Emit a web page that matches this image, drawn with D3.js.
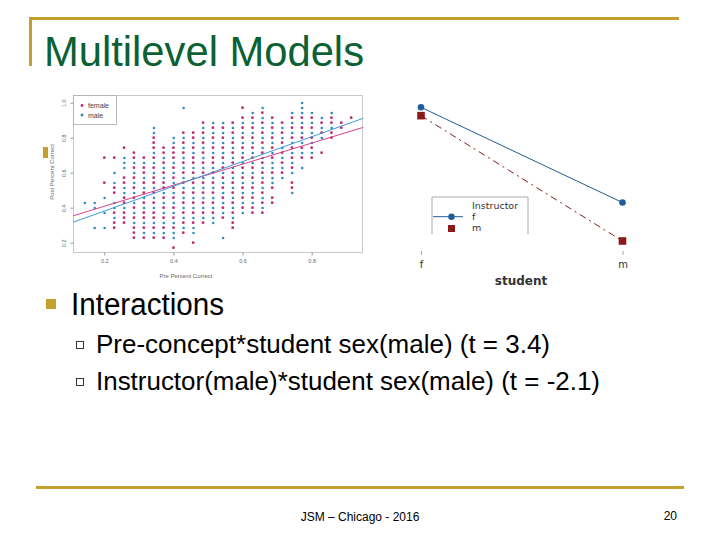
<!DOCTYPE html>
<html>
<head>
<meta charset="utf-8">
<script src="https://cdn.jsdelivr.net/npm/d3@7"></script>
<style>
  body { margin: 0; background: #fff; }
  svg { display: block; font-family: "Liberation Sans", Arial, sans-serif; }
</style>
</head>
<body>
<div id="viz"><svg width="720" height="540"></svg></div>
<script>
// ---- scatter data: pre score level (out of 35) and the post levels seen in each column
const preLevels = [5,6,7,8,9,10,11,12,13,14,15,16,17,18,19,20,21,22,23,24,25,26,27,28,29,30,31,32]
const femalePost = [
  [], [], [24,19], [24,18,17,13,11,10], [26,20,19,16,15,13,12,11],
  [25,24,22,20,18,16,14,12,10,9,8], [24,22,21,19,17,15,13,12,10,8],
  [28,27,26,24,22,20,19,17,15,13,12,10,8], [26,25,23,21,19,18,16,14,12,10,8],
  [26,25,24,22,20,18,16,14,12,10,6], [29,27,25,23,21,19,17,15,13,11,9],
  [29,28,26,24,23,21,19,17,15,13,11,7], [31,29,27,25,23,21,19,17,15,13,11],
  [30,28,26,24,23,21,19,17,15,13], [30,28,26,24,22,20,18,16,14,12],
  [31,29,27,25,23,21,19,17,15,13,11,10], [34,32,30,28,26,24,22,20,18,16,14],
  [32,30,28,26,24,22,20,18,16,14,13], [33,31,29,27,25,23,21,19,17,15,13],
  [32,30,28,26,24,21,18,16,15], [31,29,27,25,23,21], [32,30,28,26,24,22,19,18],
  [32,30,28,26,24], [32,30,28,26,24], [31,29,25], [32,31,29,28], [31,30], [32]
]
const malePost = [
  [15], [15,14,10], [16,13,10], [21,19,15,14,12], [24,23,22,18,17,14],
  [23,21,19,17,15,13,11], [23,20,18,16,14,11,9], [30,29,25,23,21,18,16,14,11,9],
  [24,22,20,17,15,13,11,9], [28,27,23,21,19,17,15,13,11,9,8],
  [34,28,26,24,22,20,18,16,14,12,10], [27,25,22,20,18,16,14,12,10,9],
  [30,28,26,24,22,20,18,16,14,12], [31,29,27,25,22,20,18,16,14,12,11],
  [31,29,27,25,23,21,19,17,15,13,8], [30,28,26,24,22,20,18,16,14,12],
  [31,29,27,25,23,21,19,17,15,13], [33,31,29,27,25,23,21,19,17,15],
  [34,32,30,28,26,24,22,20,18,16,14], [31,29,27,25,23,22,20,19],
  [30,28,26,24,22,20], [33,31,29,27,25,23,21,17], [35,34,33,31,29,27,25,22],
  [33,31,29,27,25], [32,30,28], [33,30], [], []
]
const levelsOf = 35
// fitted lines, end points [pre, post]
const femaleFit = [[0.11, 0.354], [0.949, 0.859]]
const maleFit = [[0.11, 0.317], [0.949, 0.911]]
const scatterTicks = [0.2, 0.4, 0.6, 0.8]
const scatterYTicks = [0.2, 0.4, 0.6, 0.8, 1.0]

// ---- interaction plot data
const studentSex = ["f", "m"]
const instructorF = [0.600, 0.543]
const instructorM = [0.595, 0.520]

const bullets = ["Pre-concept*student sex(male) (t = 3.4)", "Instructor(male)*student sex(male) (t = -2.1)"]
const bulletWidths = [454, 504]

const gold = "#c4a02e"
const svg = d3.select("#viz svg")

// ---- slide frame
svg.append("line").attr("x1", 29).attr("x2", 679).attr("y1", 18.5).attr("y2", 18.5)
    .attr("stroke", gold).attr("stroke-width", 3)
svg.append("line").attr("x1", 30.5).attr("x2", 30.5).attr("y1", 17).attr("y2", 66)
    .attr("stroke", gold).attr("stroke-width", 3)
svg.append("line").attr("x1", 36).attr("x2", 684).attr("y1", 487.5).attr("y2", 487.5)
    .attr("stroke", gold).attr("stroke-width", 3)
svg.append("text").attr("x", 44).attr("y", 66).text("Multilevel Models")
    .attr("font-size", 43).attr("fill", "#0b6134")
    .attr("textLength", 320).attr("lengthAdjust", "spacingAndGlyphs")
svg.append("rect").attr("x", 43).attr("y", 147).attr("width", 5).attr("height", 11).attr("fill", gold)

// ---- scatter plot
const sx = d3.scaleLinear().domain([0.2, 0.8]).range([104.3, 311.7])
const sy = d3.scaleLinear().domain([0.2, 1.0]).range([242.7, 102.7])
const scat = svg.append("g").attr("id", "scatterG")

scat.append("rect").attr("x", 73.5).attr("y", 95.5).attr("width", 289).attr("height", 157)
    .attr("fill", "none").attr("stroke", "#c8c8c8").attr("stroke-width", 1)

const xAxis = scat.append("g").attr("transform", "translate(0,252.5)")
    .call(d3.axisBottom(sx).tickValues(scatterTicks).tickSize(3).tickFormat(d3.format(".1f")))
xAxis.select(".domain").remove()
xAxis.selectAll("line").attr("stroke", "#999")
xAxis.selectAll("text").attr("font-size", 5.5).attr("fill", "#666").attr("dy", "0.9em")

const yAxis = scat.append("g").attr("transform", "translate(73.5,0)")
    .call(d3.axisLeft(sy).tickValues(scatterYTicks).tickSize(3).tickFormat(d3.format(".1f")))
yAxis.select(".domain").remove()
yAxis.selectAll("line").attr("stroke", "#999")
yAxis.selectAll("text").attr("font-size", 5.5).attr("fill", "#666")
    .attr("x", 0).attr("y", 0).attr("dy", 0).attr("text-anchor", "middle")
    .attr("transform", "translate(-8,0) rotate(-90)")

scat.append("text").attr("x", 186).attr("y", 278).attr("text-anchor", "middle")
    .attr("font-size", 6).attr("fill", "#666").text("Pre Percent Correct")
scat.append("text").attr("transform", "translate(54,172) rotate(-90)").attr("text-anchor", "middle")
    .attr("font-size", 6).attr("fill", "#666").text("Post Percent Correct")

const femaleCol = "#c02a74", maleCol = "#2f8cc3"
function pts(post){
    return preLevels.flatMap((k, i) => post[i].map(p => [k / levelsOf, p / levelsOf]))
}
scat.append("g").selectAll("circle")
    .data(pts(femalePost)).enter().append("circle")
    .attr("cx", d => sx(d[0])).attr("cy", d => sy(d[1])).attr("r", 1.4).attr("fill", femaleCol)
scat.append("g").selectAll("circle")
    .data(pts(malePost)).enter().append("circle")
    .attr("cx", d => sx(d[0]) + 0.3).attr("cy", d => sy(d[1]) + 0.3).attr("r", 1.3).attr("fill", maleCol)

const fitLine = d3.line().x(d => sx(d[0])).y(d => sy(d[1]))
scat.append("path").attr("d", fitLine(femaleFit)).attr("stroke", "#d8408a").attr("stroke-width", 1).attr("fill", "none")
scat.append("path").attr("d", fitLine(maleFit)).attr("stroke", "#3d9bd6").attr("stroke-width", 1).attr("fill", "none")

const leg = scat.append("g")
leg.append("rect").attr("x", 73.5).attr("y", 95.5).attr("width", 43).attr("height", 29)
    .attr("fill", "#fff").attr("stroke", "#aaa").attr("stroke-width", 0.8)
;[["female", femaleCol], ["male", maleCol]].forEach((d, i) => {
    leg.append("circle").attr("cx", 82).attr("cy", 105.5 + i * 9.5).attr("r", 1.4).attr("fill", d[1])
    leg.append("text").attr("x", 88).attr("y", 108 + i * 9.5).attr("font-size", 7).attr("fill", "#444").text(d[0])
})

// ---- interaction plot
const ix = d3.scalePoint().domain(studentSex).range([421, 622.5])
const iy = d3.scaleLinear().domain([0.52, 0.60]).range([241, 107.3])
const inter = svg.append("g").attr("id", "interG")
const blue = "#1f5d98", red = "#8b1b1b"
const iline = d3.line().x((d, i) => ix(studentSex[i])).y(d => iy(d))

inter.append("path").attr("d", iline(instructorF)).attr("stroke", blue).attr("stroke-width", 1).attr("fill", "none")
inter.append("path").attr("d", iline(instructorM)).attr("stroke", red).attr("stroke-width", 1)
    .attr("stroke-dasharray", "7,4,2,4").attr("fill", "none")
inter.selectAll("circle.f").data(instructorF).enter().append("circle").attr("class", "f")
    .attr("cx", (d, i) => ix(studentSex[i])).attr("cy", d => iy(d)).attr("r", 3.3).attr("fill", blue)
inter.selectAll("rect.m").data(instructorM).enter().append("rect").attr("class", "m")
    .attr("x", (d, i) => ix(studentSex[i]) - 3.8).attr("y", d => iy(d) - 3.8)
    .attr("width", 7.6).attr("height", 7.6).attr("fill", red)

const ixAxis = inter.append("g").attr("transform", "translate(0,251)")
    .call(d3.axisBottom(ix).tickSize(4))
ixAxis.select(".domain").remove()
ixAxis.selectAll("line").attr("stroke", "#aaa")
ixAxis.selectAll("text").attr("font-size", 10).attr("fill", "#333").attr("dy", "0.95em")
    .attr("font-family", "'DejaVu Sans', sans-serif")
inter.append("text").attr("x", 521).attr("y", 285).attr("text-anchor", "middle")
    .attr("font-size", 12).attr("font-weight", "bold").attr("fill", "#333")
    .attr("font-family", "'DejaVu Sans', sans-serif").text("student")

const ileg = inter.append("g")
ileg.append("path").attr("d", "M432,234V197H528V234").attr("fill", "none").attr("stroke", "#aaa").attr("stroke-width", 1)
ileg.append("text").attr("x", 472).attr("y", 209).attr("font-size", 9.5).attr("fill", "#333")
    .attr("font-family", "'DejaVu Sans', sans-serif").text("Instructor")
ileg.append("line").attr("x1", 433).attr("x2", 463).attr("y1", 216.7).attr("y2", 216.7).attr("stroke", blue)
ileg.append("circle").attr("cx", 451.5).attr("cy", 216.7).attr("r", 3.2).attr("fill", blue)
ileg.append("rect").attr("x", 448).attr("y", 225).attr("width", 7).attr("height", 7).attr("fill", red)
ileg.append("text").attr("x", 472).attr("y", 220).attr("font-size", 9.5).attr("fill", "#333")
    .attr("font-family", "'DejaVu Sans', sans-serif").text("f")
ileg.append("text").attr("x", 472).attr("y", 231).attr("font-size", 9.5).attr("fill", "#333")
    .attr("font-family", "'DejaVu Sans', sans-serif").text("m")

// ---- bullet text
svg.append("rect").attr("x", 46).attr("y", 299).attr("width", 10).attr("height", 10).attr("fill", gold)
svg.append("text").attr("x", 71).attr("y", 315).attr("font-size", 31).attr("fill", "#000")
    .attr("textLength", 153).attr("lengthAdjust", "spacingAndGlyphs").text("Interactions")
bullets.forEach((b, i) => {
    svg.append("rect").attr("x", 76.5).attr("y", 341.5 + i * 37).attr("width", 7).attr("height", 7)
        .attr("fill", "none").attr("stroke", "#333").attr("stroke-width", 1)
    svg.append("text").attr("x", 96).attr("y", 353 + i * 37).attr("font-size", 25).attr("fill", "#000")
        .attr("textLength", bulletWidths[i]).attr("lengthAdjust", "spacingAndGlyphs").text(b)
})

// ---- footer
svg.append("text").attr("x", 360).attr("y", 521).attr("text-anchor", "middle")
    .attr("font-size", 12).attr("fill", "#000").text("JSM – Chicago - 2016")
svg.append("text").attr("x", 677).attr("y", 520).attr("text-anchor", "end")
    .attr("font-size", 12).attr("fill", "#000").text("20")
</script>
</body>
</html>
